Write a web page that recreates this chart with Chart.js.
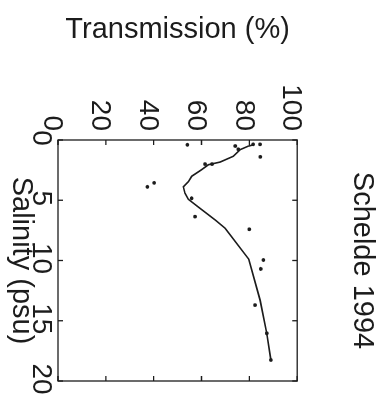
<!DOCTYPE html>
<html>
<head>
<meta charset="utf-8">
<script src="https://cdn.jsdelivr.net/npm/chart.js@4"></script>
<style>
    html, body { margin: 0; padding: 0; background: #fff; }
    #wrap { position: relative; width: 385px; height: 401px; overflow: hidden; }
    /* la figura se dibuja horizontal y se gira 90° a la derecha */
    #grafico-schelde {
        position: absolute; left: 0; top: 0;
        transform-origin: 0 0;
        transform: translateX(385px) rotate(90deg);
    }
</style>
</head>
<body>
<div id="wrap">
    <canvas id="grafico-schelde" width="401" height="385"></canvas>
</div>
<script>
// Medidas (salinidad psu, transmisión %)
const salinidadPuntos = [0.40, 0.50, 0.77, 0.36, 0.36, 1.40, 2.0, 2.0, 3.89, 3.56, 4.84, 6.36, 7.41, 9.96, 10.7, 13.7, 16.04, 18.26];
const transmisionPuntos = [54.1, 74.1, 75.4, 81.6, 84.5, 84.6, 61.5, 64.4, 37.4, 40.2, 55.9, 57.3, 80.0, 85.9, 84.8, 82.4, 87.3, 89.0];

// Curva ajustada
const salinidadCurva = [0.40, 0.52, 0.80, 1.35, 1.83, 2.05, 2.47, 3.01, 3.46, 3.88, 4.42, 4.92, 5.67, 6.64, 7.33, 9.90, 13.3, 16.04, 18.26];
const transmisionCurva = [81.6, 79.4, 76.2, 73.3, 67.8, 62.9, 60.0, 55.9, 54.5, 52.4, 53.1, 54.5, 59.4, 65.7, 69.9, 79.8, 84.5, 87.3, 89.0];

const ticksSalinidad = [0, 5, 10, 15, 20];
const ticksTransmision = [0, 20, 40, 60, 80, 100];

const tinta = "#1c1c1c";
const fuente = "'Liberation Sans', Arial, sans-serif";

// Marco cerrado con marcas hacia dentro en los cuatro lados
const marcoPlugin = {
    id: "marco",
    afterDraw(chart) {
        const { ctx, chartArea: a, scales } = chart;
        const largo = 5;
        ctx.save();
        ctx.strokeStyle = tinta;
        ctx.lineWidth = 1.3;
        ctx.strokeRect(a.left, a.top, a.right - a.left, a.bottom - a.top);
        ctx.beginPath();
        ticksSalinidad.forEach(v => {
            const x = scales.x.getPixelForValue(v);
            ctx.moveTo(x, a.bottom); ctx.lineTo(x, a.bottom - largo);
            ctx.moveTo(x, a.top); ctx.lineTo(x, a.top + largo);
        });
        ticksTransmision.forEach(v => {
            const y = scales.y.getPixelForValue(v);
            ctx.moveTo(a.left, y); ctx.lineTo(a.left + largo, y);
            ctx.moveTo(a.right, y); ctx.lineTo(a.right - largo, y);
        });
        ctx.stroke();
        ctx.restore();
    }
};

const ctx = document.getElementById("grafico-schelde").getContext("2d");

new Chart(ctx, {
    type: "scatter",
    data: {
        datasets: [
            {
                label: "ajuste",
                data: salinidadCurva.map((s, i) => ({ x: s, y: transmisionCurva[i] })),
                showLine: true,
                borderColor: tinta,
                borderWidth: 1.6,
                pointRadius: 0,
                tension: 0
            },
            {
                label: "medidas",
                data: salinidadPuntos.map((s, i) => ({ x: s, y: transmisionPuntos[i] })),
                backgroundColor: tinta,
                borderColor: tinta,
                borderWidth: 0,
                pointRadius: 1.9
            }
        ]
    },
    options: {
        responsive: false,
        animation: false,
        layout: { padding: { left: 0, right: 20, top: 0, bottom: 0 } },
        plugins: {
            legend: { display: false },
            tooltip: { enabled: false },
            title: {
                display: true,
                text: "Schelde 1994",
                fullSize: false,
                color: tinta,
                font: { family: fuente, size: 29, weight: "normal" },
                padding: { top: 6, bottom: 47 }
            }
        },
        scales: {
            x: {
                type: "linear",
                min: 0, max: 20,
                afterBuildTicks: s => { s.ticks = ticksSalinidad.map(v => ({ value: v })); },
                afterFit: s => { s.height = 58; },
                grid: { display: false, drawTicks: false },
                border: { display: false },
                ticks: {
                    color: tinta, padding: 0, maxRotation: 0, labelOffset: -2,
                    font: { family: fuente, size: 28 }
                },
                title: {
                    display: true, text: "Salinity (psu)", color: tinta,
                    font: { family: fuente, size: 29 },
                    padding: { top: 0, bottom: 4 }
                }
            },
            y: {
                type: "linear",
                min: 0, max: 100,
                afterBuildTicks: s => { s.ticks = ticksTransmision.map(v => ({ value: v })); },
                afterFit: s => { s.width = 140; },
                grid: { display: false, drawTicks: false },
                border: { display: false },
                ticks: {
                    color: tinta, padding: 9, labelOffset: 6,
                    font: { family: fuente, size: 28 }
                },
                title: {
                    display: true, text: "Transmission (%)", color: tinta,
                    font: { family: fuente, size: 29 },
                    padding: { top: 13, bottom: 0 }
                }
            }
        }
    },
    plugins: [marcoPlugin]
});
</script>
</body>
</html>
